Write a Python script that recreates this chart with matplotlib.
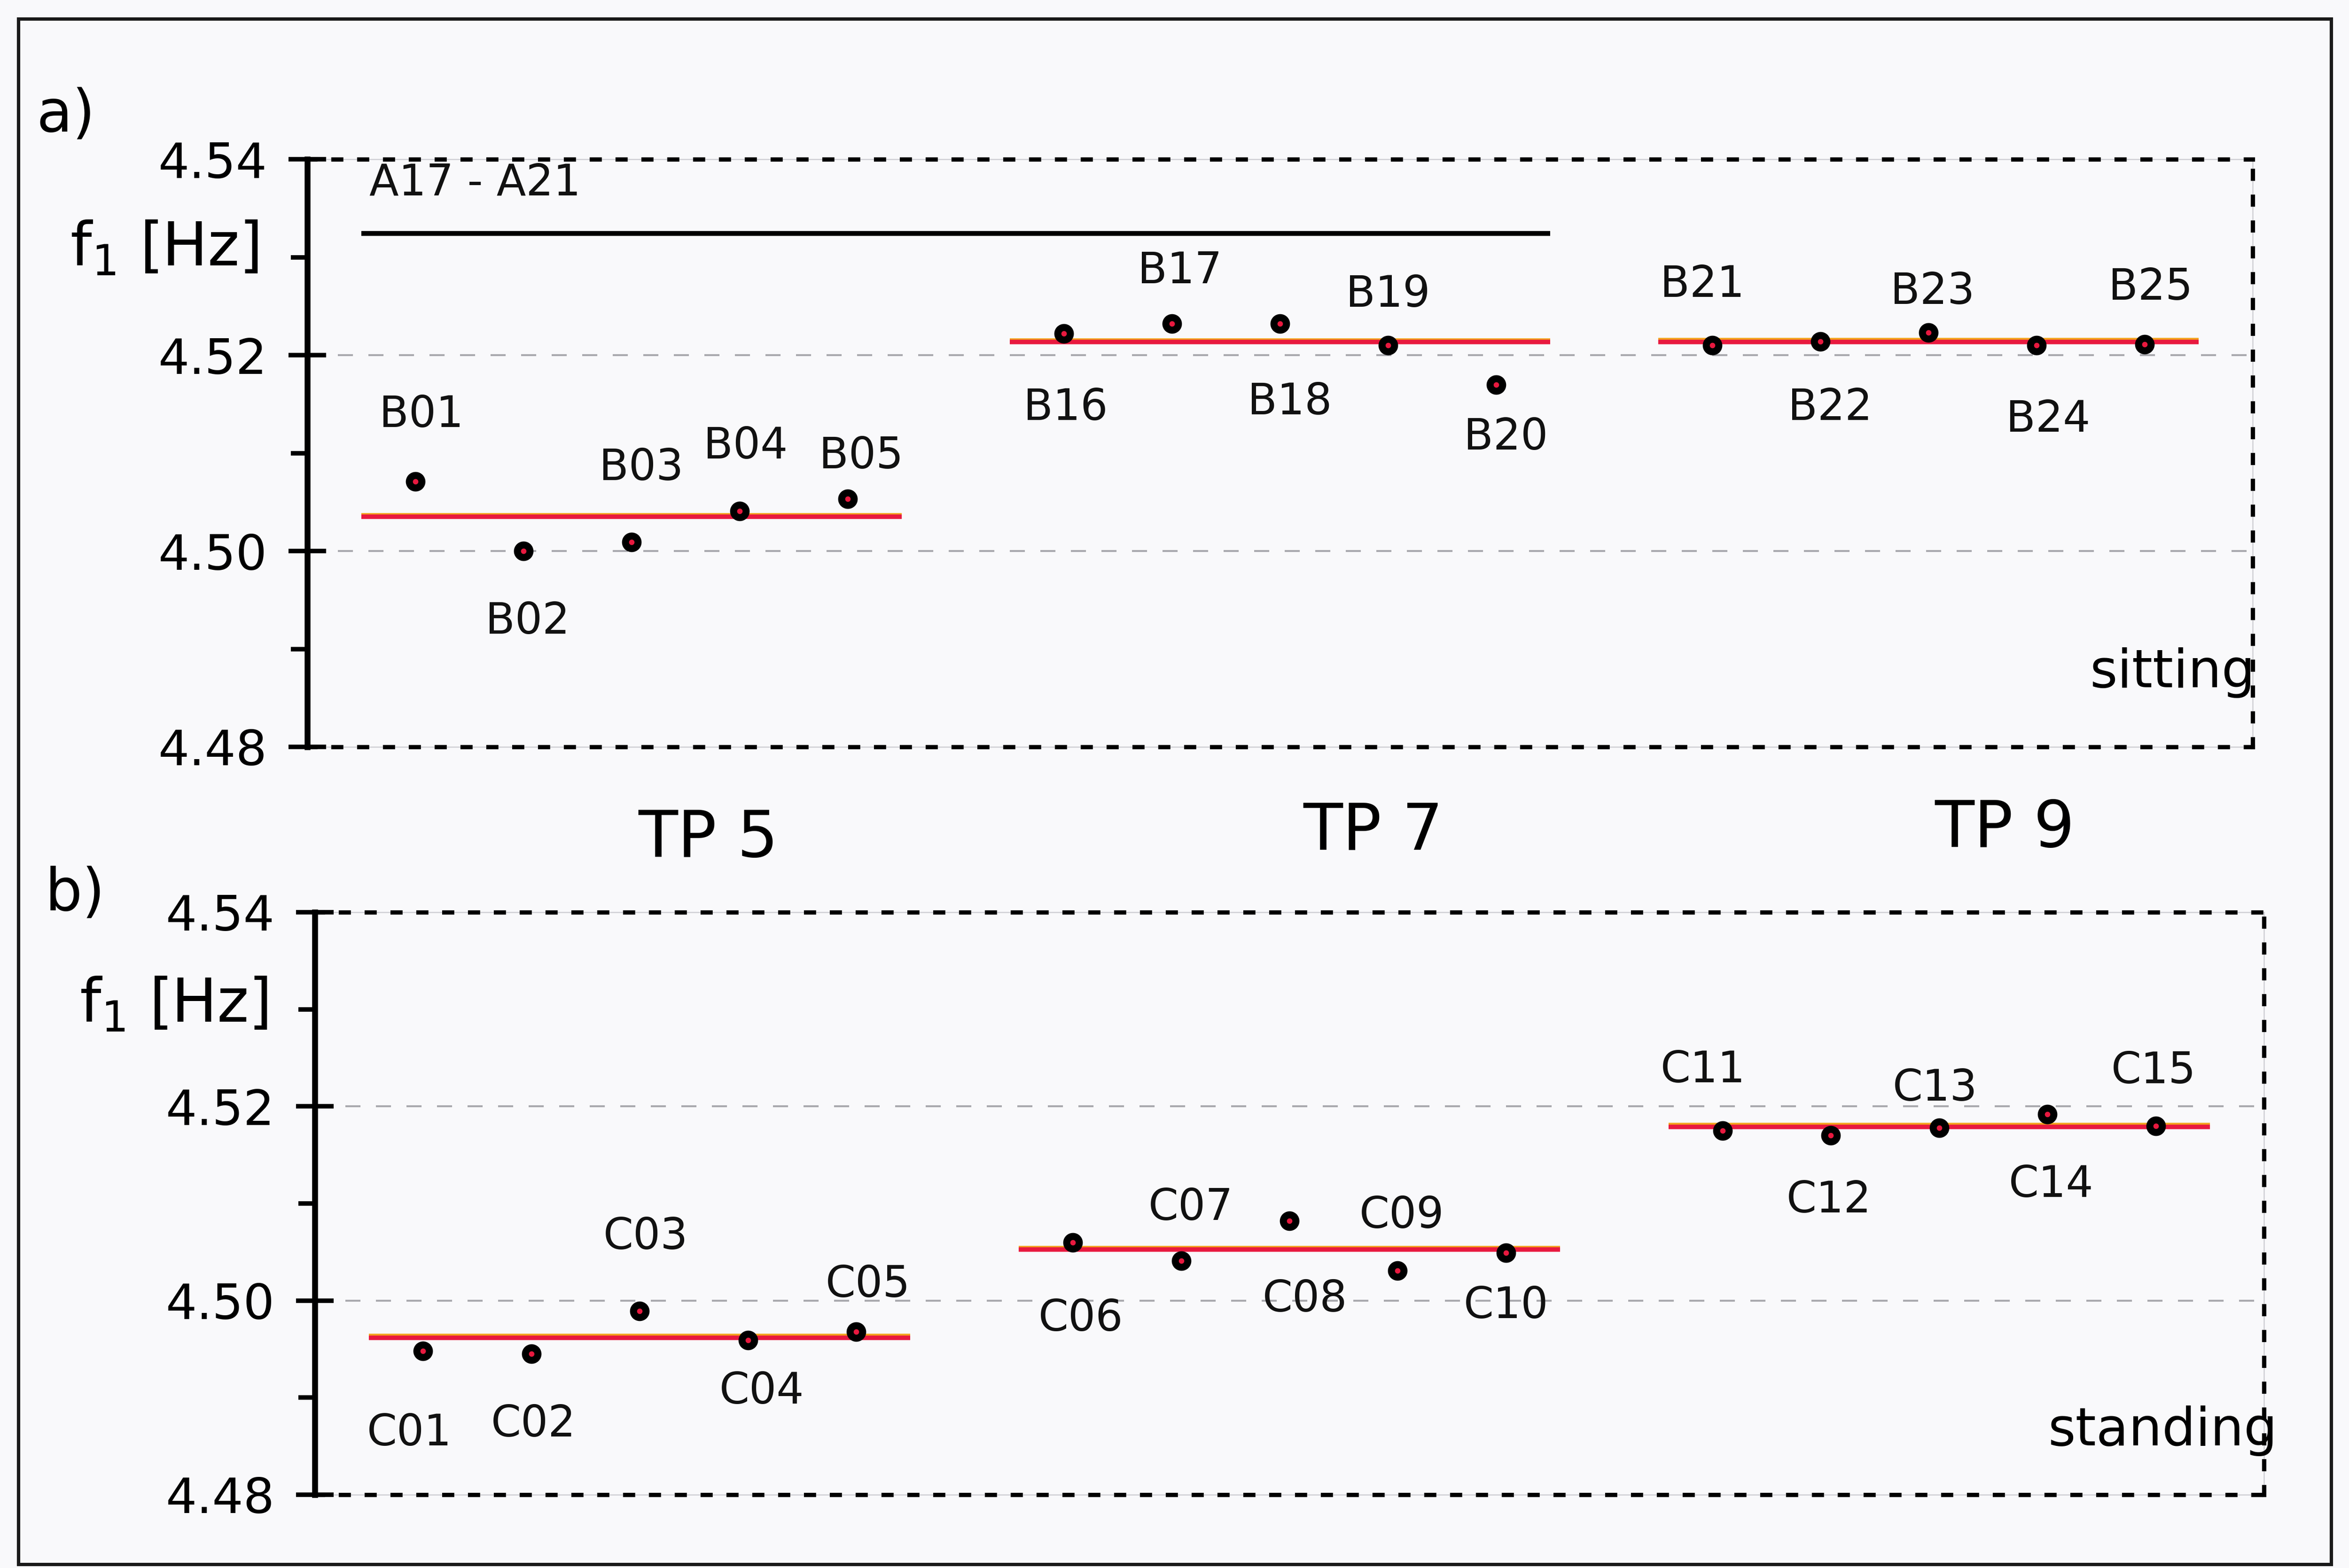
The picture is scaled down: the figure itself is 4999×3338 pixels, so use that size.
import numpy as np
import matplotlib
matplotlib.use("Agg")
import matplotlib.pyplot as plt
import matplotlib.patheffects as pe
from matplotlib.patches import Rectangle
from matplotlib.ticker import FixedLocator, FormatStrFormatter

plt.rcParams["font.family"] = ["DejaVu Sans"]
plt.rcParams["lines.scale_dashes"] = False

W, H, DPI = 4999, 3338, 300

# ---- data -----------------------------------------------------------------
positions = ["TP 5", "TP 7", "TP 9"]

sitting_ids = ["B01", "B02", "B03", "B04", "B05",
               "B16", "B17", "B18", "B19", "B20",
               "B21", "B22", "B23", "B24", "B25"]
sitting_f1 = [4.5071, 4.5000, 4.5009, 4.5041, 4.5053,
              4.5222, 4.5232, 4.5232, 4.5210, 4.5170,
              4.5210, 4.5214, 4.5223, 4.5210, 4.5211]

standing_ids = ["C01", "C02", "C03", "C04", "C05",
                "C06", "C07", "C08", "C09", "C10",
                "C11", "C12", "C13", "C14", "C15"]
standing_f1 = [4.4948, 4.4945, 4.4989, 4.4959, 4.4968,
               4.5060, 4.5041, 4.5082, 4.5031, 4.5049,
               4.5175, 4.5170, 4.5178, 4.5192, 4.5180]

empty_label = "A17 - A21"
empty_f1 = 4.5324

y_ticks = [4.48, 4.50, 4.52, 4.54]
y_minor = [4.49, 4.51, 4.53]

# ---- label placement (offsets in points from each marker) -----------------
sitting_offsets = [(3, 34), (2, -36), (5, 38), (3, 33), (7, 22),
                   (1, -38), (4, 27), (5, -40), (0, 26), (5, -27),
                   (-5, 31), (5, -34), (2, 21), (6, -38), (3, 29)]
standing_offsets = [(-7, -42), (1, -36), (3, 38), (7, -26), (6, 24),
                    (4, -39), (5, 27), (8, -40), (2, 28), (0, -27),
                    (-10, 31), (-1, -33), (-2, 20), (2, -36), (-1, 28)]

RED = "#e8193f"
FRINGE = "#f3a21d"
FRAME_DASH = (0, (4.0, 9.2))
GRID_DASH = (0, (7.7, 7.9))

# slot index of every measurement: five per position, one empty slot between
slots = np.array([g * 6 + i for g in range(len(positions)) for i in range(5)])

fig = plt.figure(figsize=(W / DPI, H / DPI), dpi=DPI)
fig.patch.set_facecolor("#f9f9fb")


def ftext(x, y, s, **kw):
    fig.text(x / W, 1 - y / H, s, **kw)


def make_panel(rect, ids, vals, offsets):
    ax = fig.add_axes(rect)
    ax.patch.set_alpha(0)
    ax.set_xlim(-1, 17)
    ax.set_ylim(y_ticks[0], y_ticks[-1])
    ax.set_xticks([])

    ax.yaxis.set_major_locator(FixedLocator(y_ticks))
    ax.yaxis.set_minor_locator(FixedLocator(y_minor))
    ax.yaxis.set_major_formatter(FormatStrFormatter("%.2f"))
    ax.tick_params(axis="y", which="major", direction="inout", length=19,
                   width=2.3, pad=11, labelsize=25, color="black")
    ax.tick_params(axis="y", which="minor", direction="out", length=8.5,
                   width=2.3, color="black")

    ax.spines["left"].set_linewidth(3.0)
    ax.spines["left"].set_zorder(6)
    for side in ("top", "right", "bottom"):
        ax.spines[side].set_linewidth(2.2)
        ax.spines[side].set_linestyle(FRAME_DASH)
    # faint hairline under the dotted frame
    for xs, ys in (([0, 1], [1, 1]), ([0, 1], [0, 0]), ([1, 1], [0, 1])):
        ax.plot(xs, ys, transform=ax.transAxes, color="#cfcfd4", lw=0.6,
                clip_on=False, zorder=0.4)

    for g in (4.50, 4.52):
        ax.axhline(g, color="#a9a9ae", lw=1.0, linestyle=GRID_DASH, zorder=0.5)

    vals = np.asarray(vals)
    for g in range(len(positions)):
        sl = slots[g * 5:(g + 1) * 5]
        m = vals[g * 5:(g + 1) * 5].mean()
        ax.plot([sl[0] - 0.5, sl[-1] + 0.5], [m, m], color=RED, lw=2.3,
                solid_capstyle="butt", zorder=2,
                path_effects=[pe.SimpleLineShadow(offset=(0, 0.8),
                                                  shadow_color=FRINGE,
                                                  alpha=1.0),
                              pe.Normal()])

    ax.plot(slots, vals, linestyle="none", marker="o", ms=6.4, mew=3.6,
            mec="black", mfc=RED, zorder=4)

    for s, v, name, (dx, dy) in zip(slots, vals, ids, offsets):
        ax.annotate(name, (s, v), xytext=(dx, dy), textcoords="offset points",
                    ha="center", va="center", fontsize=22, color="#111111")
    return ax


# a) sitting
ax_a = make_panel([654 / W, 1 - 1590 / H, 4140 / W, 1251 / H],
                  sitting_ids, sitting_f1, sitting_offsets)
ax_a.plot([slots[0] - 0.5, slots[9] + 0.5], [empty_f1, empty_f1],
          color="black", lw=2.5, solid_capstyle="butt", zorder=2)
ax_a.annotate(empty_label, (slots[0] - 0.5, empty_f1), xytext=(4, 15),
              textcoords="offset points", ha="left", va="bottom",
              fontsize=22, color="#111111")

# b) standing
ax_b = make_panel([670 / W, 1 - 3182 / H, 4148 / W, 1240 / H],
                  standing_ids, standing_f1, standing_offsets)

# panel annotations
ftext(140, 245, "a)", fontsize=30, ha="center", va="center")
ftext(160, 1903, "b)", fontsize=30, ha="center", va="center")
ftext(350, 529, r"f$_1$ [Hz]", fontsize=31, ha="center", va="center")
ftext(370, 2140, r"f$_1$ [Hz]", fontsize=31, ha="center", va="center")
ftext(4800, 1463, "sitting", fontsize=27, ha="right", va="baseline")
ftext(4847, 3077, "standing", fontsize=27, ha="right", va="baseline")

for name, (x, y) in zip(positions, [(1507, 1787), (2922, 1771), (4266, 1766)]):
    ftext(x, y, name, fontsize=33, ha="center", va="center")

# page frame
fig.add_artist(Rectangle((39 / W, 1 - 3330 / H), (4961 - 39) / W,
                         (3330 - 40) / H, transform=fig.transFigure,
                         fill=False, edgecolor="#1a1a1a", lw=1.7))

fig.savefig("out.png", dpi=DPI, facecolor=fig.get_facecolor())
